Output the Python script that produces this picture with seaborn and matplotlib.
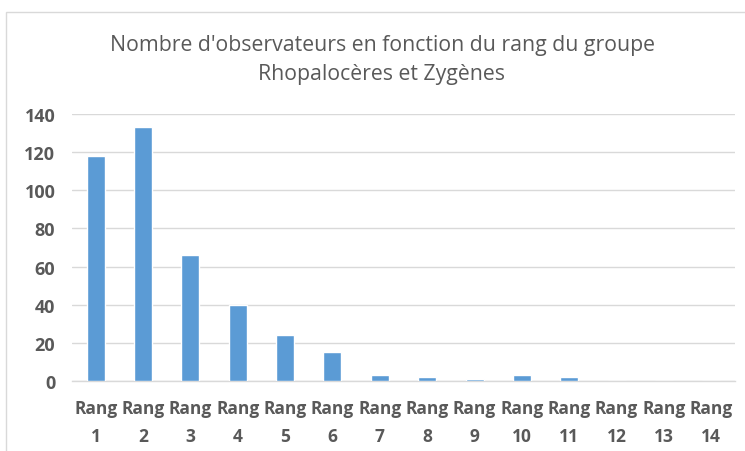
import matplotlib
matplotlib.use("Agg")
import matplotlib.pyplot as plt
import seaborn as sns
import pandas as pd
from matplotlib.patches import Rectangle

categories = [f"Rang\n{i}" for i in range(1, 15)]
values = [118, 133, 66, 40, 24, 15, 3, 2, 1, 3, 2, 0, 0, 0]
yticks = [0, 20, 40, 60, 80, 100, 120, 140]
title = "Nombre d'observateurs en fonction du rang du groupe\nRhopalocères et Zygènes"

sns.set_theme(style="white")
plt.rcParams['font.family'] = ['Open Sans', 'DejaVu Sans']

df = pd.DataFrame({"rang": categories, "n": values})

fig = plt.figure(figsize=(7.45, 4.52), dpi=100)
ax = fig.add_axes([72/745, 1 - 382/452, (735-72)/745, (382-115)/452])

sns.barplot(data=df, x="rang", y="n", color="#5B9BD5", width=0.38,
            saturation=1, ax=ax, zorder=3)

ax.set_ylim(0, 140)
ax.set_yticks(yticks)
ax.set_xlim(-0.5, len(categories) - 0.5)
ax.grid(axis="y", color="#D9D9D9", linewidth=1, zorder=0)
for s in ["top", "right", "left"]:
    ax.spines[s].set_visible(False)
ax.spines["bottom"].set_color("#D9D9D9")
ax.spines["bottom"].set_linewidth(1)
ax.set_xlabel("")
ax.set_ylabel("")
ax.tick_params(axis="both", length=0, colors="#595959")
ax.tick_params(axis="y", pad=12)
ax.tick_params(axis="x", pad=13)
for lbl in ax.get_yticklabels():
    lbl.set_fontweight("bold")
    lbl.set_fontsize(13)
    lbl.set_color("#595959")
for lbl in ax.get_xticklabels():
    lbl.set_fontweight("bold")
    lbl.set_fontsize(12.5)
    lbl.set_color("#595959")
    lbl.set_linespacing(1.7)

fig.text(382/745, 1 - 60/452, title, ha="center", va="center",
         fontsize=15.3, color="#595959", linespacing=1.45)

fig.patches.append(Rectangle((6.5/745, -0.1), 1.2, 1.1 - 12.5/452 + 0.0,
                             transform=fig.transFigure, fill=False,
                             edgecolor="#D9D9D9", linewidth=1))

fig.savefig("out.png", dpi=100)
